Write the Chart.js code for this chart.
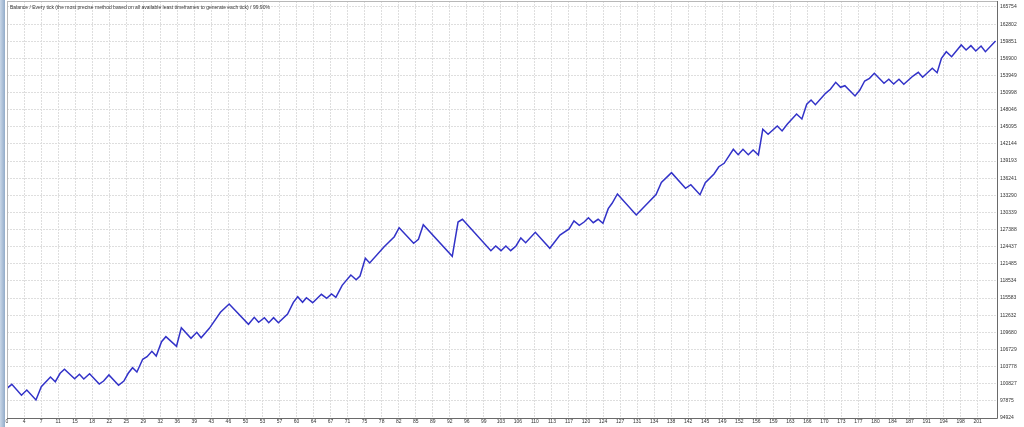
<!DOCTYPE html>
<html>
<head>
<meta charset="utf-8">
<title>Balance</title>
<script src="https://cdn.jsdelivr.net/npm/chart.js@4.4.0/dist/chart.umd.min.js"></script>
<style>
html, body { margin: 0; padding: 0; background: #fff; }
#wrap { width: 1024px; height: 427px; }
</style>
</head>
<body>
<div id="wrap"><canvas id="balanceChart" width="1024" height="427"></canvas></div>
<script>
// trade number of each vertex of the balance curve
var balanceTrades = [0, 1, 3, 4.1, 6, 7.1, 9, 10, 11, 11.9,
  14, 15, 15.9, 17.1, 19.1, 20, 21.1, 23.1, 24.2, 25.1,
  26, 26.9, 28.1, 29, 30, 30.9, 32, 32.9, 35.1, 36.1,
  38.1, 39.3, 40.2, 41.9, 44.2, 46, 50, 51.2, 52.1, 53.3,
  54.2, 55.2, 56.2, 58.1, 59.3, 60.2, 61.2, 62, 63.3, 65.1,
  66.2, 67.2, 68.1, 69.4, 71.2, 72.3, 73.1, 74.2, 75.1, 78.1,
  80.2, 81.2, 84.2, 85.2, 86.2, 92.2, 93.4, 94.3, 100.2, 101.2,
  102.3, 103.3, 104.3, 105.4, 106.4, 107.4, 109.4, 112.4, 114.5, 116.4,
  117.4, 118.5, 119.5, 120.4, 121.4, 122.4, 123.4, 124.5, 125.3, 126.4,
  130.3, 134.4, 135.5, 137.6, 140.5, 141.6, 143.5, 144.6, 146.4, 147.4,
  148.5, 150.4, 151.4, 152.4, 153.5, 154.5, 155.6, 156.5, 157.6, 159.5,
  160.5, 161.6, 163.5, 164.6, 165.6, 166.5, 167.4, 169.5, 170.5, 171.6,
  172.6, 173.5, 175.6, 176.6, 177.6, 178.6, 179.6, 181.6, 182.6, 183.6,
  184.7, 185.7, 187.6, 188.7, 189.6, 191.6, 192.6, 193.5, 194.5, 195.6,
  197.6, 198.6, 199.6, 200.6, 201.7, 202.6, 204.7];

// balance at each of those vertices
var balanceValues = [100040, 100730, 98840, 99750, 98030, 100320, 101990, 101180, 102630, 103320,
  101700, 102460, 101650, 102560, 100780, 101300, 102340, 100560, 101300, 102630,
  103590, 102850, 105040, 105490, 106420, 105610, 108070, 108940, 107280, 110490,
  108660, 109690, 108760, 110380, 113140, 114570, 111070, 112280, 111420, 112210,
  111350, 112210, 111350, 112850, 114860, 115830, 114860, 115660, 114800, 116240,
  115550, 116290, 115730, 117790, 119570, 118760, 119400, 122450, 121640, 124450,
  126170, 127720, 125030, 125720, 128240, 122790, 128700, 129170, 123760, 124570,
  123760, 124570, 123760, 124570, 125950, 125140, 126930, 124170, 126460, 127500,
  128880, 128130, 128700, 129440, 128580, 129170, 128480, 131000, 131930, 133530,
  129910, 133420, 135510, 137200, 134510, 135130, 133410, 135480, 136980, 138230,
  138820, 141230, 140300, 141230, 140300, 141110, 140250, 144680, 143820, 145250,
  144390, 145590, 147320, 146450, 148990, 149730, 148920, 150880, 151570, 152780,
  151920, 152190, 150420, 151450, 153000, 153470, 154330, 152610, 153300, 152490,
  153300, 152430, 153860, 154500, 153640, 155190, 154430, 156920, 158050, 157190,
  159210, 158350, 159090, 158170, 159030, 158050, 159900];

var xTickLabels = ['0', '4', '7', '11', '15', '18', '22', '25', '29', '32', '36', '39', '43', '46', '50',
  '53', '57', '60', '64', '67', '71', '75', '78', '82', '85', '89', '92', '96', '99', '103',
  '106', '110', '113', '117', '120', '124', '127', '131', '134', '138', '142', '145', '149', '152',
  '156', '159', '163', '166', '170', '173', '177', '180', '184', '187', '191', '194', '198', '201'];

var yTickLabels = ['94924', '97875', '100827', '103778', '106729', '109680', '112632', '115583',
  '118534', '121485', '124437', '127388', '130339', '133290', '136241', '139193', '142144',
  '145095', '148046', '150998', '153949', '156900', '159851', '162802', '165754'];

var titleText = 'Balance / Every tick (the most precise method based on all available least timeframes to generate each tick) / 99.90%';

var smallFont = { family: '"Liberation Sans", Arial, sans-serif', size: 5 };

var points = [];
for (var i = 0; i < balanceTrades.length; i++)
  points.push({ x: balanceTrades[i], y: balanceValues[i] });

// x ticks are evenly spaced between first and last label
var xFirst = parseFloat(xTickLabels[0]);
var xLast = parseFloat(xTickLabels[xTickLabels.length - 1]);
var xStep = (xLast - xFirst) / (xTickLabels.length - 1);

function noPadding(axis) {
  axis.paddingTop = 0;
  axis.paddingBottom = 0;
  axis.paddingLeft = 0;
  axis.paddingRight = 0;
}

var framePlugin = {
  id: 'frame',
  beforeDraw: function(chart) {
    var ctx = chart.ctx;
    var g = ctx.createLinearGradient(0, 0, 5, 0);
    g.addColorStop(0, '#c9d7e8');
    g.addColorStop(1, '#93acc9');
    ctx.save();
    ctx.fillStyle = g;
    ctx.fillRect(0, 0, 5, chart.height);
    ctx.restore();
  },
  afterDraw: function(chart) {
    var ctx = chart.ctx, a = chart.chartArea;
    ctx.save();
    ctx.lineWidth = 1;
    ctx.strokeStyle = '#b8b8b8';
    ctx.beginPath();
    ctx.moveTo(a.left, a.top + 0.5);
    ctx.lineTo(a.right, a.top + 0.5);
    ctx.moveTo(a.left + 0.5, a.top);
    ctx.lineTo(a.left + 0.5, a.bottom);
    ctx.stroke();
    ctx.strokeStyle = '#6a6a6a';
    ctx.beginPath();
    ctx.moveTo(a.left, a.bottom + 0.5);
    ctx.lineTo(a.right + 0.5, a.bottom + 0.5);
    ctx.lineTo(a.right + 0.5, a.top);
    ctx.stroke();
    ctx.fillStyle = '#333';
    ctx.font = '5px "Liberation Sans", Arial, sans-serif';
    ctx.textBaseline = 'middle';
    ctx.fillText(titleText, a.left + 3, a.top + 7);
    ctx.restore();
  }
};

var ctx = document.getElementById('balanceChart');
var balanceChart = new Chart(ctx, {
  type: 'line',
  data: {
    datasets: [{
      data: points,
      borderColor: '#3232c8',
      borderWidth: 1.5,
      pointRadius: 0,
      tension: 0,
      fill: false
    }]
  },
  options: {
    responsive: false,
    animation: false,
    layout: { padding: { left: 7, top: 1, right: 0, bottom: 0 } },
    plugins: { legend: { display: false }, tooltip: { enabled: false } },
    scales: {
      x: {
        type: 'linear',
        min: 0,
        max: 205,
        afterBuildTicks: function(axis) {
          axis.ticks = xTickLabels.map(function(l, i) { return { value: xFirst + i * xStep }; });
        },
        afterFit: function(axis) { axis.height = 9; noPadding(axis); },
        ticks: {
          autoSkip: false,
          maxRotation: 0,
          padding: 1,
          color: '#333',
          font: smallFont,
          callback: function(v, i) { return xTickLabels[i]; }
        },
        grid: { color: '#dedede', lineWidth: 1, drawTicks: false },
        border: { display: false, dash: [2, 1] }
      },
      y: {
        position: 'right',
        min: 94924,
        max: 166788,
        afterBuildTicks: function(axis) {
          axis.ticks = yTickLabels.map(function(l) { return { value: parseFloat(l) }; });
        },
        afterFit: function(axis) { axis.width = 27; noPadding(axis); },
        ticks: {
          autoSkip: false,
          padding: 3,
          color: '#333',
          font: smallFont,
          callback: function(v, i) { return yTickLabels[i]; }
        },
        grid: { color: '#dedede', lineWidth: 1, drawTicks: false },
        border: { display: false, dash: [2, 1] }
      }
    }
  },
  plugins: [framePlugin]
});
</script>
</body>
</html>
